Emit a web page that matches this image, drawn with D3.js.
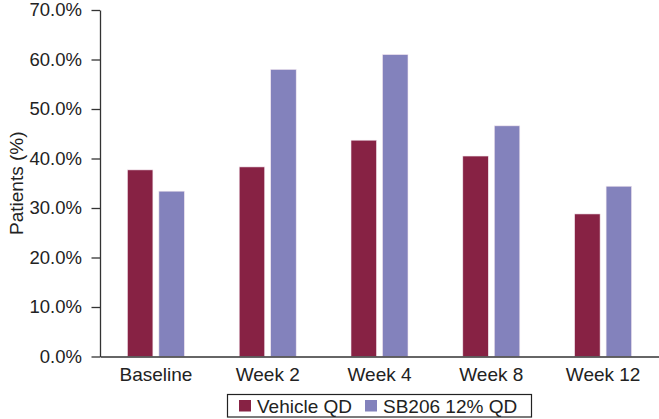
<!DOCTYPE html>
<html>
<head>
<meta charset="utf-8">
<script src="https://cdn.jsdelivr.net/npm/d3@7"></script>
<style>
body { margin: 0; background: #fff; }
svg { display: block; font-family: "Liberation Sans", Arial, sans-serif; }
</style>
</head>
<body>
<div id="chart"></div>
<script>
var categories = ["Baseline", "Week 2", "Week 4", "Week 8", "Week 12"];
var seriesNames = ["Vehicle QD", "SB206 12% QD"];
var vehicle = [37.7, 38.3, 43.7, 40.5, 28.8];
var sb206 = [33.4, 58.0, 61.0, 46.6, 34.4];
var yTicks = [0, 10, 20, 30, 40, 50, 60, 70];
var colors = ["#872244", "#8382bc"];

var width = 659, height = 419;
var margin = {left: 100, right: 0, top: 10, bottom: 62.5};

var svg = d3.select("#chart").append("svg")
    .attr("width", width).attr("height", height);

var x = d3.scaleBand()
    .domain(categories)
    .range([margin.left, width - margin.right]);

var inner = d3.scaleBand()
    .domain(seriesNames)
    .range([0, 57])
    .paddingInner(0.19);

var y = d3.scaleLinear()
    .domain([0, 70])
    .range([height - margin.bottom, margin.top]);

var rows = categories.map(function(c, i){
  return {cat: c, vals: [
    {name: seriesNames[0], v: vehicle[i]},
    {name: seriesNames[1], v: sb206[i]}
  ]};
});

var groups = svg.append("g").selectAll("g")
    .data(rows)
    .enter().append("g")
    .attr("transform", function(d){ return "translate(" + (x(d.cat) + (x.bandwidth() - 57) / 2) + ",0)"; });

groups.selectAll("rect")
    .data(function(d){ return d.vals; })
    .enter().append("rect")
    .attr("x", function(d){ return inner(d.name); })
    .attr("width", inner.bandwidth())
    .attr("y", function(d){ return y(d.v); })
    .attr("height", function(d){ return y(0) - y(d.v); })
    .attr("fill", function(d, i){ return colors[i]; })
    .attr("stroke", "#f3e8f0")
    .attr("stroke-width", 0.6);

// axes
var xAxis = d3.axisBottom(x).tickSize(0).tickSizeOuter(0).tickPadding(11.5);
var gx = svg.append("g")
    .attr("transform", "translate(0," + y(0) + ")")
    .call(xAxis);
gx.select(".domain").attr("stroke", "#333").attr("stroke-width", 1.3);
gx.selectAll("text").attr("font-size", 19).attr("font-family", "Liberation Sans, Arial, sans-serif").attr("fill", "#222");

var yAxis = d3.axisLeft(y).tickValues(yTicks).tickSize(8.5).tickSizeOuter(0).tickPadding(9.5)
    .tickFormat(function(d){ return d.toFixed(1) + "%"; });
var gy = svg.append("g")
    .attr("transform", "translate(" + margin.left + ",0)")
    .call(yAxis);
gy.select(".domain").attr("stroke", "#333").attr("stroke-width", 1.3);
gy.selectAll(".tick line").attr("stroke", "#333").attr("stroke-width", 1.3);
gy.selectAll("text").attr("font-size", 18.5).attr("font-family", "Liberation Sans, Arial, sans-serif").attr("fill", "#222");

svg.append("text")
    .attr("transform", "translate(23," + ((y(0) + y(70)) / 2) + ") rotate(-90)")
    .attr("text-anchor", "middle")
    .attr("font-size", 19)
    .attr("fill", "#222")
    .text("Patients (%)");

// legend
var legend = svg.append("g");
legend.append("rect")
    .attr("x", 227.5).attr("y", 394.5)
    .attr("width", 304).attr("height", 22.5)
    .attr("fill", "none").attr("stroke", "#222").attr("stroke-width", 1.2);

var legendX = [239, 365];
seriesNames.forEach(function(n, i){
  legend.append("rect")
    .attr("x", legendX[i]).attr("y", 400)
    .attr("width", 12).attr("height", 11.5)
    .attr("fill", colors[i]);
  legend.append("text")
    .attr("x", legendX[i] + 18).attr("y", 412.5)
    .attr("font-size", 19)
    .attr("fill", "#222")
    .text(n);
});
</script>
</body>
</html>
